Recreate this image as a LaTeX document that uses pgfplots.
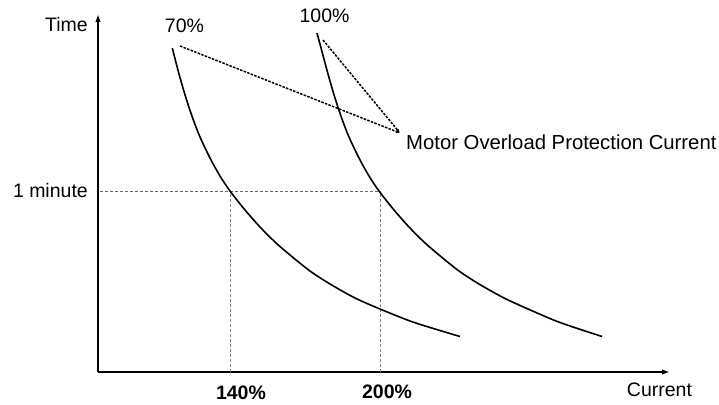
\documentclass[border=0pt]{standalone}
\usepackage{pgfplots}
\pgfplotsset{compat=1.18}
\usetikzlibrary{arrows.meta}
\usepackage{fontspec}
\setmainfont{Liberation Sans}
\begin{document}
\begin{tikzpicture}
\begin{axis}[
  x=1pt, y=1pt,
  xmin=98, xmax=670, ymin=0, ymax=358,
  axis lines=left,
  axis line style={line width=1.6pt, -{Latex[length=8pt,width=5.5pt]}},
  xtick=\empty, ytick=\empty,
  clip=false,
  font=\fontsize{19.5}{22}\selectfont,
]
% guide lines
\addplot[gray!80!black, line width=0.8pt, dash pattern=on 3pt off 2pt] coordinates {(100,181) (380,181)};
\addplot[gray, line width=0.8pt, dash pattern=on 3pt off 2pt] coordinates {(230,0) (230,181)};
\addplot[gray, line width=0.8pt, dash pattern=on 3pt off 2pt] coordinates {(380,0) (380,181)};
% leader lines
\addplot[black, line width=1.5pt, dash pattern=on 2.5pt off 1.3pt, -{Latex[length=4pt,width=3pt]}] coordinates {(180,326) (400,239)};
\addplot[black, line width=1.5pt, dash pattern=on 2.5pt off 1.3pt, -{Latex[length=4pt,width=3pt]}] coordinates {(323,332) (400,239)};
% curves
\addplot[black, line width=1.6pt, smooth, tension=0.5] coordinates {
(172.3,324) (179,298) (186,274) (193,253) (200,235) (210,214) (220,196) (230,181) (245,162) (260,145) (275,130) (290,117) (310,101) (330,88) (355,74) (380,63) (410,51) (435,43) (460,35.5)};
\addplot[black, line width=1.6pt, smooth, tension=0.5] coordinates {
(317,339) (321.3,323) (328,298) (335,274) (342,253) (349,235) (359,214) (369,196) (379,181) (394,162) (409,145) (424,130) (439,117) (459,101) (479,88) (504,74) (528,63) (556,51) (579,43) (602,35.5)};
% labels
\node[anchor=east, inner sep=0pt] at (axis cs:88,347) {Time};
\node[anchor=east, inner sep=0pt] at (axis cs:88,181) {1 minute};
\node[inner sep=0pt] at (axis cs:184.5,346) {70\%};
\node[inner sep=0pt] at (axis cs:324.5,356) {100\%};
\node[anchor=west, inner sep=0pt, font=\fontsize{20.3}{22}\selectfont] at (axis cs:406,230) {Motor Overload Protection Current};
\node[inner sep=0pt, font=\fontsize{19.5}{22}\selectfont\bfseries] at (axis cs:241,-20.5) {140\%};
\node[inner sep=0pt, font=\fontsize{19.5}{22}\selectfont\bfseries] at (axis cs:387,-20) {200\%};
\node[inner sep=0pt] at (axis cs:659.5,-18) {Current};
\coordinate (bl) at (axis cs:0,-32);
\coordinate (tr) at (axis cs:719,372);
\end{axis}
\pgfresetboundingbox
\useasboundingbox (bl) rectangle (tr);
\end{tikzpicture}
\end{document}
